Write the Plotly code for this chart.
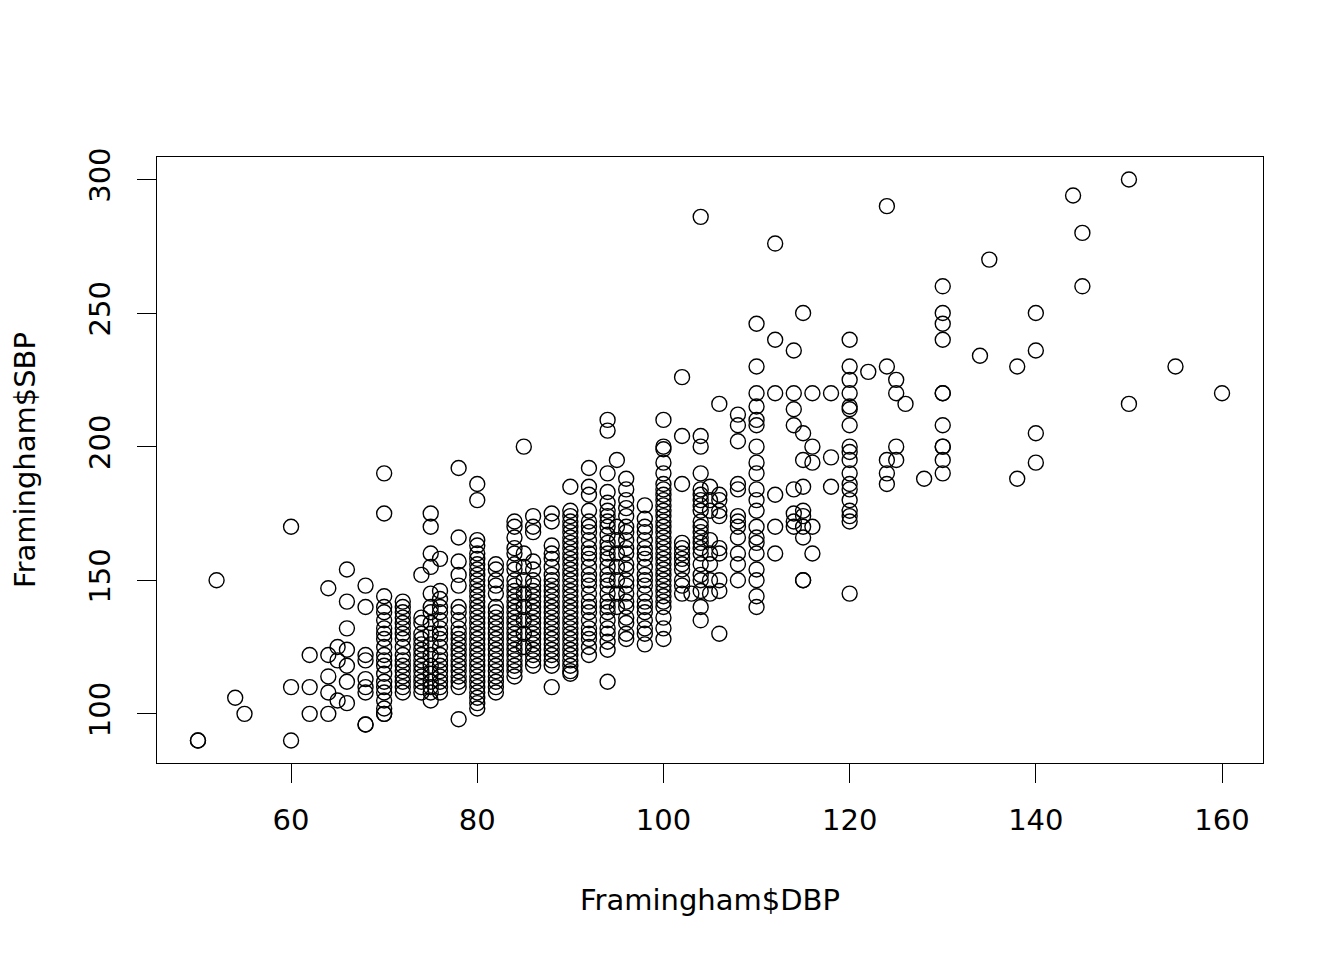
import plotly.graph_objects as go

# SBP readings, grouped by the DBP value they were recorded with
sbp_50 = [90, 90]
sbp_52 = [150]
sbp_54 = [106]
sbp_55 = [100]
sbp_60 = [170, 110, 90]
sbp_62 = [122, 110, 100]
sbp_64 = [147, 122, 114, 108, 100]
sbp_65 = [125, 120, 105]
sbp_66 = [154, 142, 132, 124, 118, 112, 104]
sbp_68 = [148, 140, 122, 120, 113, 110, 108, 96, 96]
sbp_70 = [190, 175, 144, 140, 138, 135, 132, 130, 128, 125, 122, 120, 118, 115,
          112, 110, 108, 105, 102, 100, 100]
sbp_72 = [142, 140, 138, 136, 134, 132, 130, 128, 125, 122, 120, 118, 116, 114,
          112, 110, 108]
sbp_74 = [152, 136, 134, 130, 128, 126, 124, 122, 120, 118, 116, 114, 112, 110, 108]
sbp_75 = [175, 170, 160, 155, 145, 140, 138, 134, 130, 126, 122, 118, 115, 112,
          110, 108, 105]
sbp_76 = [158, 146, 143, 140, 138, 135, 132, 130, 128, 125, 122, 120, 118, 116,
          114, 112, 110, 108]
sbp_78 = [192, 166, 157, 152, 148, 140, 138, 135, 132, 130, 128, 126, 124, 122,
          120, 118, 116, 114, 112, 110, 98]
sbp_80 = [186, 180, 165, 163, 160, 158, 156, 154, 152, 150, 148, 146, 144, 142,
          140, 138, 136, 134, 132, 130, 128, 126, 124, 122, 120, 118, 116, 114,
          112, 110, 108, 106, 104, 102]
sbp_82 = [156, 154, 150, 148, 145, 140, 138, 136, 134, 132, 130, 128, 126, 124,
          122, 120, 118, 116, 114, 112, 110, 108]
sbp_84 = [172, 170, 166, 162, 160, 156, 154, 150, 148, 146, 144, 142, 140, 138,
          136, 134, 132, 130, 128, 126, 124, 122, 120, 118, 116, 114]
sbp_85 = [200, 160, 155, 150, 145, 140, 135, 130, 125]
sbp_86 = [174, 170, 168, 157, 154, 150, 148, 146, 144, 142, 140, 138, 136, 134,
          132, 130, 128, 126, 124, 122, 120, 118]
sbp_88 = [175, 172, 163, 160, 158, 155, 152, 150, 148, 146, 144, 142, 140, 138,
          136, 134, 132, 130, 128, 126, 124, 122, 120, 118, 110]
sbp_90 = [185, 176, 174, 172, 170, 168, 166, 164, 162, 160, 158, 156, 154, 152,
          150, 148, 146, 144, 142, 140, 138, 136, 134, 132, 130, 128, 126, 124,
          122, 120, 118, 116, 115]
sbp_92 = [192, 185, 182, 176, 172, 170, 168, 165, 162, 160, 158, 155, 152, 150,
          148, 145, 142, 140, 138, 135, 132, 130, 128, 125, 122]
sbp_94 = [210, 206, 190, 183, 179, 176, 174, 172, 170, 167, 164, 162, 160, 158,
          155, 152, 150, 148, 145, 142, 140, 138, 135, 132, 130, 127, 124, 112]
sbp_95 = [195, 170, 165, 160, 155, 150, 145, 140]
sbp_96 = [188, 184, 180, 177, 174, 170, 168, 165, 162, 160, 156, 154, 150, 148,
          145, 142, 140, 136, 134, 130, 128]
sbp_98 = [178, 173, 170, 168, 165, 162, 160, 158, 155, 152, 150, 148, 145, 142,
          140, 138, 135, 132, 130, 126]
sbp_100 = [210, 200, 199, 194, 190, 186, 184, 182, 180, 178, 176, 174, 172, 170,
           168, 166, 164, 162, 160, 158, 156, 154, 152, 150, 148, 146, 144, 142,
           140, 136, 132, 128]
sbp_102 = [226, 204, 186, 164, 162, 160, 158, 156, 154, 150, 148, 145]
sbp_103 = [145]
sbp_104 = [286, 204, 200, 190, 184, 182, 180, 178, 176, 172, 170, 168, 166, 164,
           162, 160, 156, 152, 150, 146, 140, 135]
sbp_105 = [185, 180, 176, 165, 160, 156, 150, 145]
sbp_106 = [216, 182, 180, 176, 174, 162, 160, 150, 146, 130]
sbp_108 = [212, 208, 202, 186, 184, 174, 172, 170, 166, 160, 156, 150]
sbp_110 = [246, 230, 220, 215, 210, 208, 200, 194, 190, 184, 180, 176, 170, 166,
           164, 160, 154, 150, 144, 140]
sbp_112 = [276, 240, 220, 182, 170, 160]
sbp_114 = [236, 220, 214, 208, 184, 175, 172, 170]
sbp_115 = [250, 205, 195, 185, 176, 174, 170, 166, 150, 150]
sbp_116 = [220, 200, 194, 170, 160]
sbp_118 = [220, 196, 185]
sbp_120 = [240, 230, 225, 220, 215, 214, 208, 200, 198, 195, 190, 186, 184, 180,
           176, 174, 172, 145]
sbp_122 = [228]
sbp_124 = [290, 230, 195, 190, 186]
sbp_125 = [225, 220, 200, 195]
sbp_126 = [216]
sbp_128 = [188]
sbp_130 = [260, 250, 246, 240, 220, 220, 208, 200, 200, 195, 190]
sbp_134 = [234]
sbp_135 = [270]
sbp_138 = [230, 188]
sbp_140 = [250, 236, 205, 194]
sbp_144 = [294]
sbp_145 = [280, 260]
sbp_150 = [300, 216]
sbp_155 = [230]
sbp_160 = [220]

columns = [
    (50, sbp_50), (52, sbp_52), (54, sbp_54), (55, sbp_55), (60, sbp_60),
    (62, sbp_62), (64, sbp_64), (65, sbp_65), (66, sbp_66), (68, sbp_68),
    (70, sbp_70), (72, sbp_72), (74, sbp_74), (75, sbp_75), (76, sbp_76),
    (78, sbp_78), (80, sbp_80), (82, sbp_82), (84, sbp_84), (85, sbp_85),
    (86, sbp_86), (88, sbp_88), (90, sbp_90), (92, sbp_92), (94, sbp_94),
    (95, sbp_95), (96, sbp_96), (98, sbp_98), (100, sbp_100), (102, sbp_102),
    (103, sbp_103), (104, sbp_104), (105, sbp_105), (106, sbp_106),
    (108, sbp_108), (110, sbp_110), (112, sbp_112), (114, sbp_114),
    (115, sbp_115), (116, sbp_116), (118, sbp_118), (120, sbp_120),
    (122, sbp_122), (124, sbp_124), (125, sbp_125), (126, sbp_126),
    (128, sbp_128), (130, sbp_130), (134, sbp_134), (135, sbp_135),
    (138, sbp_138), (140, sbp_140), (144, sbp_144), (145, sbp_145),
    (150, sbp_150), (155, sbp_155), (160, sbp_160),
]

x_ticks = [60, 80, 100, 120, 140, 160]
y_ticks = [100, 150, 200, 250, 300]

dbp = []
sbp = []
for d, vals in columns:
    dbp += [d] * len(vals)
    sbp += vals

font = "DejaVu Sans"

fig = go.Figure(go.Scatter(
    x=dbp, y=sbp, mode="markers",
    marker=dict(symbol="circle-open", size=15, color="black",
                line=dict(color="black", width=1.4)),
))

axis_common = dict(
    showgrid=False, zeroline=False, showline=True, mirror=True,
    linecolor="black", linewidth=1.3, ticks="outside", ticklen=19,
    tickwidth=1.3, tickcolor="black",
    tickfont=dict(family=font, size=29, color="black"),
)

fig.update_xaxes(range=[45.6, 164.4], tickvals=x_ticks, ticklabelstandoff=12,
                 **axis_common)
fig.update_yaxes(range=[81.6, 308.4], tickvals=y_ticks, tickangle=-90,
                 ticklabelstandoff=15, **axis_common)

fig.add_annotation(text="Framingham$DBP", xref="paper", yref="paper",
                   x=0.5, y=0, yshift=-137, xanchor="center", yanchor="middle",
                   showarrow=False,
                   font=dict(family=font, size=29, color="black"))
fig.add_annotation(text="Framingham$SBP", xref="paper", yref="paper",
                   x=0, y=0.5, xshift=-132, textangle=-90,
                   xanchor="center", yanchor="middle", showarrow=False,
                   font=dict(family=font, size=29, color="black"))

# the page adds an 8px body margin, so pull the plot up/left by that much
fig.update_layout(
    width=1344, height=960,
    margin=dict(l=149, r=89, t=149, b=205),
    paper_bgcolor="white", plot_bgcolor="white",
    showlegend=False,
)

fig.write_html("out.html")
